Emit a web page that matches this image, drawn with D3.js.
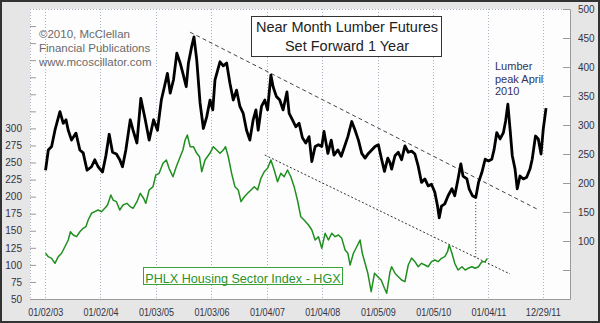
<!DOCTYPE html>
<html><head><meta charset="utf-8">
<script src="https://cdn.jsdelivr.net/npm/d3@7"></script>
<style>
html,body{margin:0;padding:0;background:#fff;}
svg{display:block;font-family:"Liberation Sans",Arial,sans-serif;}
</style></head>
<body><svg id="c" width="600" height="323"></svg>
<script>
// ---- data (plotted time in decimal years; lumber already shifted forward 1 year) ----
const lumberYears = [2003.01,2003.06,2003.12,2003.18,2003.27,2003.33,2003.38,2003.42,2003.48,2003.56,2003.63,2003.69,2003.76,2003.84,2003.90,2003.96,
2004.04,2004.10,2004.16,2004.22,2004.29,2004.35,2004.40,2004.46,2004.54,2004.59,2004.66,2004.73,2004.81,2004.88,2004.96,
2005.03,2005.10,2005.17,2005.21,2005.26,2005.32,2005.38,2005.44,2005.49,2005.55,2005.59,2005.65,2005.69,2005.74,2005.80,2005.86,2005.92,2005.98,
2006.03,2006.07,2006.16,2006.22,2006.28,2006.34,2006.40,2006.46,2006.52,2006.58,2006.64,2006.70,2006.76,2006.81,2006.85,2006.91,2006.97,
2007.02,2007.08,2007.12,2007.18,2007.24,2007.30,2007.37,2007.41,2007.47,2007.53,2007.59,2007.65,2007.71,2007.77,2007.82,2007.88,2007.94,
2008.00,2008.04,2008.11,2008.17,2008.22,2008.29,2008.35,2008.41,2008.47,2008.54,2008.60,2008.66,2008.72,2008.78,2008.84,2008.90,2008.96,
2009.02,2009.08,2009.13,2009.19,2009.23,2009.26,2009.32,2009.38,2009.44,2009.50,2009.56,2009.62,2009.68,2009.74,2009.80,2009.86,2009.92,2009.98,
2010.04,2010.09,2010.12,2010.16,2010.22,2010.28,2010.35,2010.40,2010.46,2010.51,2010.55,2010.62,2010.66,2010.72,2010.78,2010.83,2010.89,2010.95,
2011.01,2011.07,2011.11,2011.16,2011.22,2011.28,2011.32,2011.36,2011.40,2011.44,2011.49,2011.53,2011.58,2011.64,2011.70,2011.76,2011.80,2011.86,2011.91,2011.96,
2012.00,2012.05];
const lumberValues = [222,257,263,291,323,303,309,291,274,286,257,252,222,228,240,228,
219,247,284,253,250,240,228,257,309,291,269,346,309,274,309,
291,343,372,389,355,378,424,407,389,366,407,436,452,412,338,294,314,343,
326,378,409,402,407,372,343,360,332,320,291,274,309,326,291,332,343,
326,386,366,349,343,326,357,320,309,297,303,278,269,280,237,263,266,
263,289,251,274,248,257,246,263,280,306,291,274,251,243,251,257,263,
266,240,220,243,235,224,247,253,240,264,253,255,250,229,201,207,195,198,
184,160,140,160,164,178,190,178,207,233,212,207,190,178,175,201,218,241,
238,241,257,287,276,287,307,336,293,247,224,190,212,207,210,224,241,281,276,250,
293,329];

const hgxYears = [2003.01,2003.06,2003.12,2003.18,2003.24,2003.30,2003.36,2003.42,2003.46,2003.51,2003.57,2003.63,2003.69,2003.74,2003.78,2003.84,2003.90,2003.96,
2004.02,2004.08,2004.13,2004.19,2004.23,2004.29,2004.35,2004.41,2004.48,2004.54,2004.59,2004.66,2004.72,2004.78,2004.82,2004.88,2004.95,
2005.00,2005.06,2005.13,2005.19,2005.24,2005.31,2005.37,2005.43,2005.49,2005.53,2005.57,2005.62,2005.68,2005.74,2005.79,2005.83,2005.89,2005.98,
2006.04,2006.10,2006.16,2006.22,2006.26,2006.31,2006.37,2006.43,2006.49,2006.54,2006.60,2006.66,2006.72,2006.78,2006.84,2006.90,2006.96,
2007.02,2007.08,2007.14,2007.20,2007.26,2007.32,2007.38,2007.44,2007.50,2007.56,2007.62,2007.68,2007.76,2007.82,2007.88,2007.94,
2008.00,2008.06,2008.12,2008.18,2008.24,2008.30,2008.36,2008.42,2008.47,2008.51,2008.57,2008.63,2008.69,2008.73,2008.78,2008.83,2008.89,2008.95,
2009.01,2009.07,2009.13,2009.17,2009.23,2009.26,2009.32,2009.38,2009.44,2009.50,2009.56,2009.62,2009.68,2009.74,2009.80,2009.86,2009.92,2009.98,
2010.04,2010.10,2010.16,2010.22,2010.27,2010.30,2010.35,2010.40,2010.46,2010.53,2010.59,2010.64,2010.71,2010.77,2010.83,2010.89,2010.95,2010.99];
const hgxValues = [117,112,109.6,102.3,112,117,126.6,136.5,148.6,143.8,141.3,148.6,153.6,156,165.8,175.6,178,180.4,
178,183,187.8,202.4,195,192.6,180.4,187.8,190.2,185.3,182.9,192.6,204.9,197.6,190.2,209.7,214.6,
231.7,234.2,248.9,253.7,241.5,229.2,243.9,256.2,268.4,283,290.3,273.2,273.2,263.5,258.5,236.5,253.7,263.9,
273.2,268.3,263.5,268.3,273.2,258.5,234.2,214.6,209.7,192.6,199.9,204.9,209.7,214.6,209.7,226.9,236.5,
241.5,253.7,239,221.9,234.2,229.2,239,229.2,214.6,195.1,170.6,165.8,158.4,151.1,136.5,141.3,
124.3,146.3,136.5,146.3,141.3,143.8,138.9,121.8,117,99.8,117,126.6,136.5,117,102.3,87.7,60.7,87.7,
82.7,77.8,65.7,58.4,89.6,97.3,87.7,82.7,77.8,75.4,99.8,110.1,104.7,97.3,102.3,99.8,97.3,104.7,
107.2,104.7,109.6,112,119.3,129.1,117,102.3,92.5,97.3,92.5,95,97.3,95,97.3,104.7,104.7,109.6];

const xTickDates  = ["2003-01-02","2004-01-02","2005-01-03","2006-01-03","2007-01-04","2008-01-04","2009-01-05","2010-01-05","2011-01-04","2011-12-29"];
const xTickLabels = ["01/02/03","01/02/04","01/03/05","01/03/06","01/04/07","01/04/08","01/05/09","01/05/10","01/04/11","12/29/11"];
const leftTicks  = [50,75,100,125,150,175,200,225,250,275,300,325,350,375,400,425,450];
const leftLabelMax = 300;
const rightTicks = [50,100,150,200,250,300,350,400,450,500];
const rightLabelMin = 100;

// trend annotations [year, value]
const lumberTrend = [[2005.62,460],[2011.89,155]];
const hgxTrend    = [[2006.97,261],[2011.40,86.6]];
const markerYear = 2010.78, markerLumber = 167, markerHgx = 111.5;

const titleLines = ["Near Month Lumber Futures","Set Forward 1 Year"];
const copyLines = ["\u00a92010, McClellan","Financial Publications","www.mcoscillator.com"];
const peakLines = ["Lumber","peak April","2010"];
const legendText = "PHLX Housing Sector Index - HGX";

// ---- layout ----
const W=600,H=323, L=30,R=570,T=9,B=299;
function dy(y){const yr=Math.floor(y);const s=Date.UTC(yr,0,1),e=Date.UTC(yr+1,0,1);return new Date(s+(y-yr)*(e-s));}
const parse = d3.utcParse("%Y-%m-%d");

const x  = d3.scaleUtc().domain([dy(2002.729),dy(2012.482)]).range([L,R]);
const yL = d3.scaleLinear().domain([50,475]).range([B,T]);
const yR = d3.scaleLinear().domain([0,500]).range([B,T]);

const svg = d3.select("#c");
svg.append("rect").attr("x",0).attr("y",0).attr("width",W).attr("height",H).attr("fill","#e6e6e6");
svg.append("rect").attr("x",L).attr("y",T).attr("width",R-L).attr("height",B-T).attr("fill","#fdfdfd");

// vertical grid
svg.append("g").selectAll("line").data(xTickDates).join("line")
  .attr("x1",d=>Math.round(x(parse(d)))+0.5).attr("x2",d=>Math.round(x(parse(d)))+0.5)
  .attr("y1",T).attr("y2",B).attr("stroke","#a9b3c4").attr("stroke-width",1).attr("stroke-dasharray","1,2");
// top & left dotted frame
svg.append("line").attr("x1",L).attr("x2",R).attr("y1",T+0.5).attr("y2",T+0.5).attr("stroke","#a9b3c4").attr("stroke-dasharray","1,2");
svg.append("line").attr("x1",L+0.5).attr("x2",L+0.5).attr("y1",T).attr("y2",B).attr("stroke","#a9b3c4").attr("stroke-dasharray","1,2");

// axes
const axL = d3.axisLeft(yL).tickValues(leftTicks).tickSizeInner(-6).tickSizeOuter(0).tickPadding(8)
  .tickFormat(d=>d<=leftLabelMax?d:"");
const gL = svg.append("g").attr("transform",`translate(${L},0)`).call(axL);
gL.select(".domain").remove();
const axR = d3.axisRight(yR).tickValues(rightTicks).tickSizeInner(-7).tickSizeOuter(0).tickPadding(8)
  .tickFormat(d=>d>=rightLabelMin?d:"");
const gR = svg.append("g").attr("transform",`translate(${R},0)`).call(axR);
gR.select(".domain").attr("stroke","#9a9a9a");
[gL,gR].forEach(g=>{g.selectAll(".tick line").attr("stroke","#9a9a9a");
  g.selectAll("text").attr("fill","#333344").style("font-size","10px").style("font-family","'Liberation Sans',Arial,sans-serif");});

const axB = d3.axisBottom(x).tickValues(xTickDates.map(parse)).tickSize(0).tickPadding(10)
  .tickFormat((d,i)=>xTickLabels[i]);
const gB = svg.append("g").attr("transform",`translate(0,${B})`).call(axB);
gB.select(".domain").attr("stroke","#9a9a9a");
gB.selectAll("text").attr("fill","#333344").style("font-size","10px").style("font-family","'Liberation Sans',Arial,sans-serif")
  .attr("textLength",35).attr("lengthAdjust","spacingAndGlyphs");

// trend lines
const lineL = d3.line().x(d=>x(dy(d[0]))).y(d=>yR(d[1]));
const lineH = d3.line().x(d=>x(dy(d[0]))).y(d=>yL(d[1]));
svg.append("path").attr("d",lineL(lumberTrend)).attr("fill","none").attr("stroke","#444").attr("stroke-width",1).attr("stroke-dasharray","4,3");
svg.append("path").attr("d",lineH(hgxTrend)).attr("fill","none").attr("stroke","#333").attr("stroke-width",1).attr("stroke-dasharray","2,2");
svg.append("line").attr("x1",x(dy(markerYear))).attr("x2",x(dy(markerYear)))
  .attr("y1",yR(markerLumber)).attr("y2",yL(markerHgx)).attr("stroke","#333").attr("stroke-dasharray","1,2");

// series
const hgxData = hgxYears.map((t,i)=>[t,hgxValues[i]]);
const lumData = lumberYears.map((t,i)=>[t,lumberValues[i]]);
svg.append("path").attr("d",lineH(hgxData)).attr("fill","none").attr("stroke","#1f8f1f").attr("stroke-width",1.5).attr("stroke-linejoin","round");
svg.append("path").attr("d",lineL(lumData)).attr("fill","none").attr("stroke","#000").attr("stroke-width",2.8).attr("stroke-linejoin","round");

// title box
svg.append("rect").attr("x",251.5).attr("y",16.5).attr("width",190).attr("height",40).attr("fill","#fff").attr("stroke","#333").attr("stroke-width",1);
svg.append("g").selectAll("text").data(titleLines).join("text")
  .attr("x",347).attr("y",(d,i)=>32+i*19).attr("text-anchor","middle")
  .attr("fill","#222").style("font-size","14.5px").text(d=>d);

// copyright
svg.append("g").selectAll("text").data(copyLines).join("text")
  .attr("x",39).attr("y",(d,i)=>37.5+i*14).attr("fill","#6a6a6a").style("font-size","11.5px").text(d=>d);

// peak label
svg.append("g").selectAll("text").data(peakLines).join("text")
  .attr("x",495).attr("y",(d,i)=>70+i*12.5).attr("fill","#33335a").style("font-size","11px").text(d=>d);

// legend box
svg.append("rect").attr("x",143.5).attr("y",267.5).attr("width",199).attr("height",17).attr("fill","#fff").attr("stroke","#3aa03a").attr("stroke-width",1);
svg.append("text").attr("x",243).attr("y",282.5).attr("text-anchor","middle").attr("fill","#2a922a")
  .style("font-size","12.6px").text(legendText);

// outer border
svg.append("rect").attr("x",1).attr("y",1).attr("width",W-2).attr("height",H-2).attr("fill","none").attr("stroke","#333").attr("stroke-width",2);
</script></body></html>
